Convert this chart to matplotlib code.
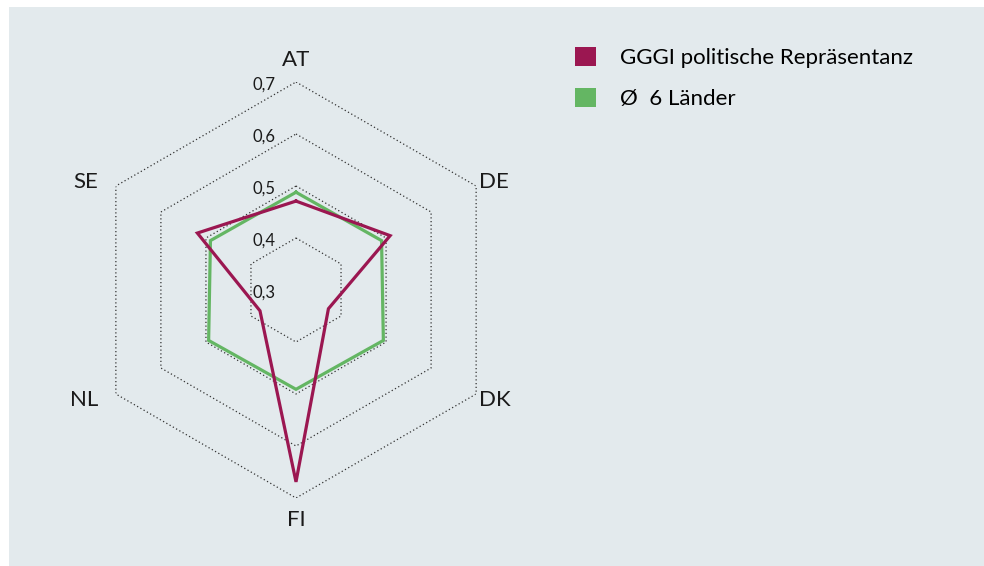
import numpy as np
import matplotlib
matplotlib.use("Agg")
import matplotlib.pyplot as plt
from matplotlib.patches import Patch, Rectangle

plt.rcParams['font.family'] = ['Lato', 'DejaVu Sans']

categories = ["AT", "DE", "DK", "FI", "NL", "SE"]
gggi = [0.471, 0.509, 0.372, 0.669, 0.380, 0.519]
avg6 = [0.488, 0.490, 0.494, 0.491, 0.494, 0.490]
ring_values = [0.3, 0.4, 0.5, 0.6, 0.7]
ring_labels = ["0,3", "0,4", "0,5", "0,6", "0,7"]
series_names = ["GGGI politische Repräsentanz", "Ø  6 Länder"]

purple = "#9b1751"
green = "#64b663"
bg = "#e3eaed"

W, H = 984, 566
fig = plt.figure(figsize=(W / 100, H / 100), dpi=100)
fig.patch.set_facecolor("white")
fig.add_artist(Rectangle((9 / W, 0), 1 - 9 / W, 1 - 7 / H, transform=fig.transFigure,
                         facecolor=bg, edgecolor="none", zorder=-10))

cx, cy, R = 296, 290, 208
ax = fig.add_axes([(cx - R) / W, 1 - (cy + R) / H, 2 * R / W, 2 * R / H], projection="polar")
ax.set_facecolor("none")
ax.set_theta_zero_location("N")
ax.set_theta_direction(-1)
ax.set_ylim(ring_values[0], ring_values[-1])
ax.grid(False)
ax.spines["polar"].set_visible(False)
ax.set_xticks([])
ax.set_yticks([])

n = len(categories)
angles = np.linspace(0, 2 * np.pi, n, endpoint=False)
closed = np.concatenate([angles, angles[:1]])

for rv in ring_values[1:]:
    ax.plot(closed, [rv] * (n + 1), linestyle=(0, (1, 2)), color="#333333", lw=0.9, zorder=1)

for rv, lab in zip(ring_values, ring_labels):
    ax.annotate(lab, xy=(0, rv), xytext=(-14.5, -2), textcoords="offset points",
                ha="right", va="center", fontsize=12, color="#1a1a1a")

ax.plot(closed, avg6 + avg6[:1], color=green, lw=2.3, zorder=3, solid_joinstyle="miter")
ax.plot(closed, gggi + gggi[:1], color=purple, lw=2.3, zorder=4, solid_joinstyle="miter")

# label offsets (points) from outer ring vertices
px = 0.72
offsets = [(0, 22 * px, "center"), (3 * px, 4 * px, "left"), (3 * px, -6 * px, "left"),
           (0, -22 * px, "center"), (-18 * px, -6 * px, "right"), (-18 * px, 4 * px, "right")]
for a, c, (dx, dy, ha) in zip(angles, categories, offsets):
    ax.annotate(c, xy=(a, ring_values[-1]), xytext=(dx, dy), textcoords="offset points",
                ha=ha, va="center", fontsize=16, color="#1a1a1a", annotation_clip=False)

handles = [Patch(facecolor=purple, edgecolor="none"), Patch(facecolor=green, edgecolor="none")]
leg = fig.legend(handles, series_names, loc="upper left", bbox_to_anchor=(566 / W, 1 - 38 / H),
                 frameon=False, fontsize=16, handlelength=0.95, handleheight=0.95,
                 handletextpad=1.1, labelspacing=0.88, borderaxespad=0)

fig.savefig("out.png", dpi=100, facecolor=fig.get_facecolor())
